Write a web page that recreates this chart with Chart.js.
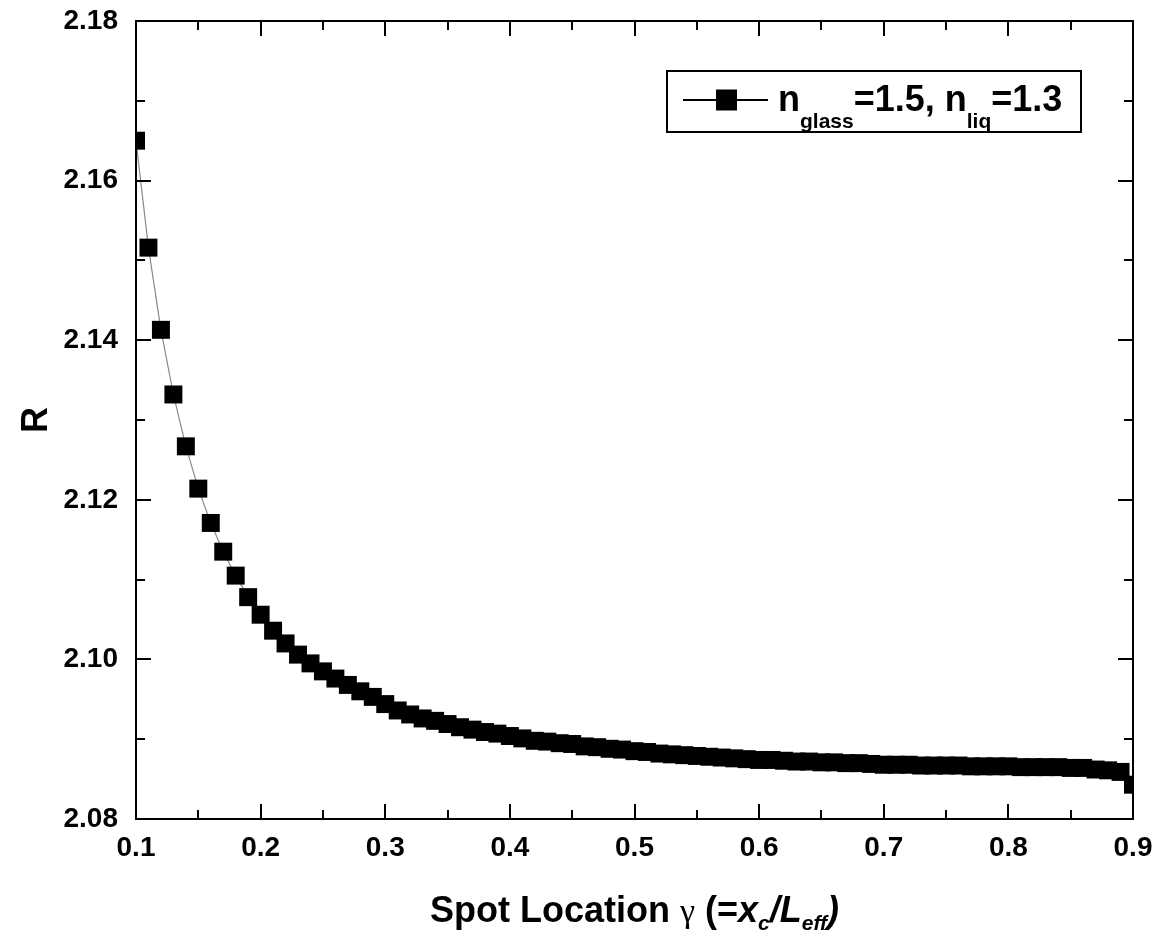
<!DOCTYPE html>
<html>
<head>
<meta charset="utf-8">
<script src="https://cdn.jsdelivr.net/npm/chart.js@4.4.1/dist/chart.umd.min.js"></script>
<style>
  html, body { margin: 0; padding: 0; background: #fff; }
  #wrap { width: 1162px; height: 934px; }
</style>
</head>
<body>
<div id="wrap"><canvas id="c" width="1162" height="934"></canvas></div>
<script>
// ---- data ----
const gammaValues = [
  0.10, 0.11, 0.12, 0.13, 0.14, 0.15, 0.16, 0.17, 0.18, 0.19,
  0.20, 0.21, 0.22, 0.23, 0.24, 0.25, 0.26, 0.27, 0.28, 0.29,
  0.30, 0.31, 0.32, 0.33, 0.34, 0.35, 0.36, 0.37, 0.38, 0.39,
  0.40, 0.41, 0.42, 0.43, 0.44, 0.45, 0.46, 0.47, 0.48, 0.49,
  0.50, 0.51, 0.52, 0.53, 0.54, 0.55, 0.56, 0.57, 0.58, 0.59,
  0.60, 0.61, 0.62, 0.63, 0.64, 0.65, 0.66, 0.67, 0.68, 0.69,
  0.70, 0.71, 0.72, 0.73, 0.74, 0.75, 0.76, 0.77, 0.78, 0.79,
  0.80, 0.81, 0.82, 0.83, 0.84, 0.85, 0.86, 0.87, 0.88, 0.89,
  0.90
];
const rValues = [
  2.1650, 2.1516, 2.1413, 2.1332, 2.1267, 2.1214, 2.1171, 2.1135, 2.1105, 2.1078,
  2.1056, 2.1036, 2.1020, 2.1006, 2.0995, 2.0985, 2.0976, 2.0968, 2.0960, 2.0953,
  2.0944, 2.0936, 2.0931, 2.0926, 2.0923, 2.0919, 2.0915, 2.0912, 2.0909, 2.0907,
  2.0904, 2.0901, 2.0898, 2.0897, 2.0895, 2.0894, 2.0891, 2.0890, 2.0888, 2.0887,
  2.0885, 2.0884, 2.0882, 2.0881, 2.0880, 2.0879, 2.0878, 2.0877, 2.0876, 2.0875,
  2.0874, 2.0874, 2.0873, 2.0872, 2.0872, 2.0871, 2.0871, 2.0870, 2.0870, 2.0869,
  2.0868, 2.0868, 2.0868, 2.0867, 2.0867, 2.0867, 2.0867, 2.0866, 2.0866, 2.0866,
  2.0866, 2.0865, 2.0865, 2.0865, 2.0865, 2.0864, 2.0864, 2.0862, 2.0861, 2.0859,
  2.0843
];
const xMajorTicks = [0.1, 0.2, 0.3, 0.4, 0.5, 0.6, 0.7, 0.8, 0.9];
const xMinorTicks = [0.15, 0.25, 0.35, 0.45, 0.55, 0.65, 0.75, 0.85];
const yMajorTicks = [2.08, 2.10, 2.12, 2.14, 2.16, 2.18];
const yMinorTicks = [2.09, 2.11, 2.13, 2.15, 2.17];

const seriesLabel = 'n_glass=1.5, n_liq=1.3';
const FONT = "'Liberation Sans', Arial, Helvetica, sans-serif";

const points = gammaValues.map((g, i) => ({ x: g, y: rValues[i] }));

// ---- frame, inward ticks, titles, legend ----
const decorPlugin = {
  id: 'decor',
  afterDraw(chart) {
    const ctx = chart.ctx;
    const a = chart.chartArea;
    const xs = chart.scales.x, ys = chart.scales.y;
    ctx.save();
    ctx.strokeStyle = '#000';
    ctx.lineWidth = 2;
    ctx.lineCap = 'butt';
    ctx.beginPath();
    const tick = (list, len, isX) => {
      list.forEach(v => {
        if (isX) {
          const px = Math.round(xs.getPixelForValue(v));
          ctx.moveTo(px, a.bottom); ctx.lineTo(px, a.bottom - len);
          ctx.moveTo(px, a.top); ctx.lineTo(px, a.top + len);
        } else {
          const py = Math.round(ys.getPixelForValue(v));
          ctx.moveTo(a.left, py); ctx.lineTo(a.left + len, py);
          ctx.moveTo(a.right, py); ctx.lineTo(a.right - len, py);
        }
      });
    };
    tick(xMajorTicks, 15, true);
    tick(xMinorTicks, 9, true);
    tick(yMajorTicks, 15, false);
    tick(yMinorTicks, 9, false);
    ctx.stroke();
    ctx.strokeRect(a.left, a.top, a.right - a.left, a.bottom - a.top);

    const drawRuns = (runs, x0, baseline) => {
      let x = x0;
      runs.forEach(r => {
        ctx.font = r.font;
        ctx.fillText(r.t, x, baseline + (r.dy || 0));
        x += ctx.measureText(r.t).width + (r.gap || 0);
      });
      return x;
    };
    const measureRuns = (runs) => {
      let w = 0;
      runs.forEach(r => { ctx.font = r.font; w += ctx.measureText(r.t).width + (r.gap || 0); });
      return w;
    };

    ctx.fillStyle = '#000';
    ctx.textBaseline = 'alphabetic';
    ctx.textAlign = 'left';

    // x-axis title
    const B = 'bold 36px ' + FONT;
    const BI = 'italic bold 36px ' + FONT;
    const SUBI = 'italic bold 21px ' + FONT;
    const xRuns = [
      { t: 'Spot Location ', font: B },
      { t: 'γ', font: '34px "Liberation Serif", "DejaVu Serif", serif' },
      { t: ' (=', font: B },
      { t: 'x', font: BI },
      { t: 'c', font: SUBI, dy: 8 },
      { t: '/', font: BI },
      { t: 'L', font: BI },
      { t: 'eff', font: SUBI, dy: 8 },
      { t: ')', font: BI }
    ];
    const tw = measureRuns(xRuns);
    drawRuns(xRuns, (a.left + a.right) / 2 - tw / 2, 922);

    // y-axis title
    ctx.save();
    ctx.translate(47, (a.top + a.bottom) / 2);
    ctx.rotate(-Math.PI / 2);
    ctx.textAlign = 'center';
    ctx.font = B;
    ctx.fillText('R', 0, 0);
    ctx.restore();

    // legend
    const lx = 667, ly = 71, lw = 414, lh = 61;
    ctx.fillStyle = '#fff';
    ctx.fillRect(lx, ly, lw, lh);
    ctx.strokeStyle = '#000';
    ctx.lineWidth = 2;
    ctx.strokeRect(lx, ly, lw, lh);
    const my = 100;
    ctx.beginPath();
    ctx.moveTo(683, my); ctx.lineTo(768, my);
    ctx.stroke();
    ctx.fillStyle = '#000';
    ctx.fillRect(716, my - 10.5, 21, 21);
    const LB = 'bold 36px ' + FONT;
    const LS = 'bold 21px ' + FONT;
    const parts = seriesLabel.split(/_(glass|liq)/);
    const legRuns = [
      { t: parts[0], font: LB },
      { t: parts[1], font: LS, dy: 17 },
      { t: parts[2], font: LB },
      { t: parts[3], font: LS, dy: 17 },
      { t: parts[4], font: LB }
    ];
    drawRuns(legRuns, 778, 111);
    ctx.restore();
  }
};

new Chart(document.getElementById('c'), {
  type: 'line',
  data: {
    datasets: [{
      label: seriesLabel,
      data: points,
      borderColor: '#8a8a8a',
      borderWidth: 1.2,
      pointStyle: 'rect',
      pointRadius: 12.7,
      pointHoverRadius: 12.7,
      pointBackgroundColor: '#000',
      pointBorderWidth: 0,
      pointBorderColor: '#000',
      tension: 0,
      clip: 0
    }]
  },
  options: {
    responsive: false,
    animation: false,
    devicePixelRatio: 1,
    layout: { padding: { top: 21, right: 29, left: 0, bottom: 0 } },
    plugins: {
      legend: { display: false },
      tooltip: { enabled: false }
    },
    scales: {
      x: {
        type: 'linear',
        min: 0.1, max: 0.9,
        afterFit: s => { s.height = 115; s.paddingLeft = 0; s.paddingRight = 0; },
        grid: { display: false, drawTicks: false },
        border: { display: false },
        afterBuildTicks: s => { s.ticks = xMajorTicks.map(v => ({ value: v })); },
        ticks: {
          padding: 12,
          color: '#000',
          maxRotation: 0,
          font: { family: FONT, size: 28, weight: 'bold' },
          callback: v => Number(v).toFixed(1)
        }
      },
      y: {
        type: 'linear',
        min: 2.08, max: 2.18,
        afterFit: s => { s.width = 136; s.paddingTop = 0; s.paddingBottom = 0; },
        grid: { display: false, drawTicks: false },
        border: { display: false },
        afterBuildTicks: s => { s.ticks = yMajorTicks.map(v => ({ value: v })); },
        ticks: {
          padding: 18,
          color: '#000',
          font: { family: FONT, size: 28, weight: 'bold' },
          callback: v => Number(v).toFixed(2)
        }
      }
    }
  },
  plugins: [decorPlugin]
});
</script>
</body>
</html>
